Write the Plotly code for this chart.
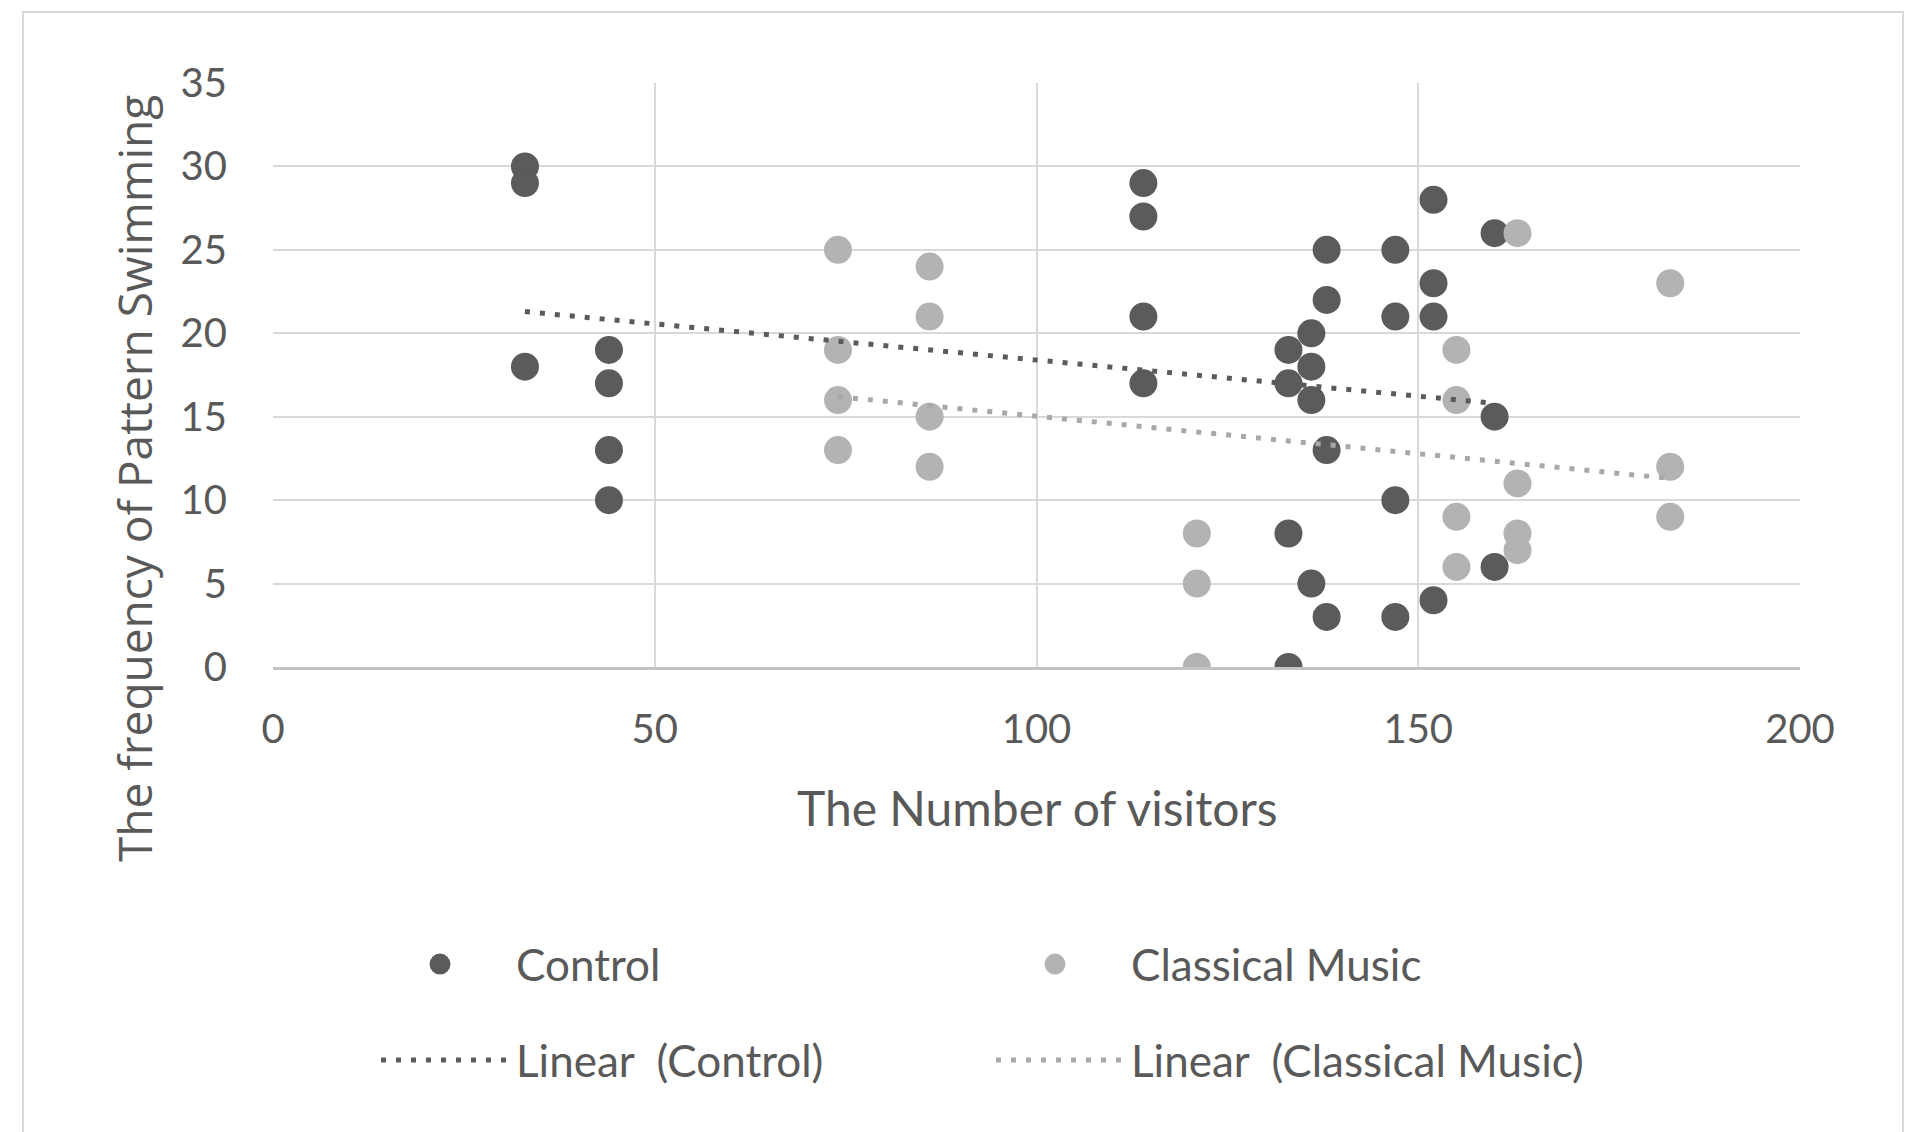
import numpy as np
import plotly.graph_objects as go

# ---- data ----
control_x = [33, 33, 33, 44, 44, 44, 44, 114, 114, 114, 114,
             133, 133, 133, 133, 136, 136, 136, 136, 138, 138, 138, 138,
             147, 147, 147, 147, 152, 152, 152, 152, 160, 160, 160]
control_y = [30, 29, 18, 19, 17, 13, 10, 29, 27, 21, 17,
             19, 17, 8, 0, 20, 18, 16, 5, 25, 22, 13, 3,
             25, 21, 10, 3, 28, 23, 21, 4, 26, 15, 6]

classical_x = [74, 74, 74, 74, 86, 86, 86, 86, 121, 121, 121,
               155, 155, 155, 155, 163, 163, 163, 163, 183, 183, 183]
classical_y = [25, 19, 16, 13, 24, 21, 15, 12, 8, 5, 0,
               19, 16, 9, 6, 26, 11, 8, 7, 23, 12, 9]

# linear trendline end points
trend_control_x = [33, 160]
trend_control_y = [21.3, 15.8]
trend_classical_x = [74, 183]
trend_classical_y = [16.2, 11.3]

series_names = ["Control", "Classical Music"]
trend_names = ["Linear\u00a0 (Control)", "Linear\u00a0 (Classical Music)"]
x_ticks = [0, 50, 100, 150, 200]
y_ticks = [0, 5, 10, 15, 20, 25, 30, 35]

DARK = "#5b5b5b"
LIGHT = "#b3b3b3"
TXT = "#595959"
FONT = "Lato"

W, H = 1913, 1132
L, R, T, B = 273, 113, 83, 465
PW, PH = W - L - R, H - T - B


def px_x(p):
    return (p - L) / PW


def px_y(p):
    return (H - B - p) / PH


fig = go.Figure()
fig.add_trace(go.Scatter(x=control_x, y=control_y, mode="markers", name=series_names[0],
                         legend="legend",
                         marker=dict(color=DARK, size=23, line=dict(width=5, color=DARK))))
fig.add_trace(go.Scatter(x=classical_x, y=classical_y, mode="markers", name=series_names[1],
                         legend="legend",
                         marker=dict(color=LIGHT, size=23, line=dict(width=5, color=LIGHT))))
fig.add_trace(go.Scatter(x=trend_control_x, y=trend_control_y, mode="lines", name=trend_names[0],
                         legend="legend2",
                         line=dict(color=DARK, width=5, dash="5px,10px")))
fig.add_trace(go.Scatter(x=trend_classical_x, y=trend_classical_y, mode="lines", name=trend_names[1],
                         legend="legend2",
                         line=dict(color="#a8a8a8", width=5, dash="5px,10px")))

leg_font = dict(family=FONT, size=44, color=TXT)

fig.update_layout(
    width=W, height=H,
    margin=dict(l=L, r=R, t=T, b=B, autoexpand=False),
    paper_bgcolor="white", plot_bgcolor="white",
    font=dict(family=FONT, color=TXT, size=40),
    showlegend=True,
    legend=dict(orientation="h", x=px_x(364), y=px_y(929), xanchor="left", yanchor="top",
                itemwidth=142, entrywidth=458, font=leg_font,
                itemsizing="trace", bgcolor="rgba(0,0,0,0)"),
    legend2=dict(orientation="h", x=px_x(376), y=px_y(1025), xanchor="left", yanchor="top",
                 itemwidth=130, entrywidth=470, font=leg_font,
                 itemsizing="trace", bgcolor="rgba(0,0,0,0)"),
    xaxis=dict(range=[0, 200], tickvals=x_ticks, showgrid=True, gridcolor="#d9d9d9", gridwidth=2,
               zeroline=False, showline=True, linecolor="#c3c3c3", linewidth=3,
               ticks="", ticklabelstandoff=25, tickfont=dict(family=FONT, size=40, color=TXT),
               fixedrange=True),
    yaxis=dict(range=[0, 35], tickvals=y_ticks, showgrid=True, gridcolor="#d9d9d9", gridwidth=2,
               zeroline=False, showline=False, ticks="", ticklabelstandoff=45,
               tickfont=dict(family=FONT, size=40, color=TXT), fixedrange=True),
    annotations=[
        dict(text="The Number of visitors", xref="paper", yref="paper",
             x=px_x(1037), y=px_y(807), xanchor="center", yanchor="middle", showarrow=False,
             font=dict(family=FONT, size=48, color=TXT)),
        dict(text="The frequency of Pattern Swimming", xref="paper", yref="paper",
             x=px_x(134), y=px_y(479), xanchor="center", yanchor="middle", showarrow=False,
             textangle=-90, font=dict(family="Open Sans", size=46, color=TXT)),
    ],
    shapes=[
        dict(type="rect", xref="paper", yref="paper", x0=px_x(23), x1=px_x(1903),
             y0=px_y(1150), y1=px_y(12), line=dict(color="#d9d9d9", width=2), layer="below"),
    ],
)

fig.write_html("out.html")
